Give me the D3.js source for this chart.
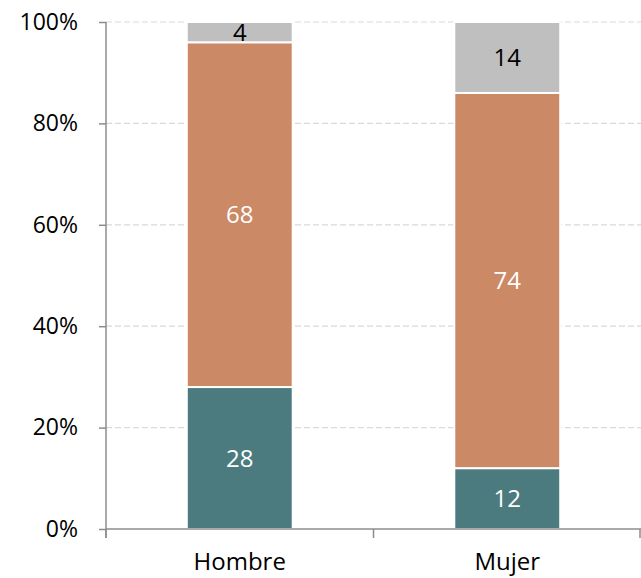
<!DOCTYPE html>
<html>
<head>
<meta charset="utf-8">
<script src="https://cdn.jsdelivr.net/npm/d3@7"></script>
<style>
  body { margin: 0; background: #fff; }
  text { font-family: "Open Sans", "Noto Sans", sans-serif; }
</style>
</head>
<body>
<div id="chart"></div>
<script>
var categories = ["Hombre", "Mujer"];
var seriesKeys = ["bajo", "medio", "alto"];
var bajo = [28, 12];
var medio = [68, 74];
var alto = [4, 14];
var yTicks = [0, 20, 40, 60, 80, 100];

var colors = { bajo: "#4b7b7e", medio: "#cc8966", alto: "#bfbfbf" };
var labelColors = { bajo: "#ffffff", medio: "#ffffff", alto: "#000000" };

var data = categories.map(function(c, i) {
  return { cat: c, bajo: bajo[i], medio: medio[i], alto: alto[i] };
});

var w = 641, h = 578;
var margin = { top: 22, right: 0, bottom: 49, left: 106 };

var svg = d3.select("#chart").append("svg")
  .attr("width", w)
  .attr("height", h);

var xScale = d3.scaleBand()
  .domain(categories)
  .range([margin.left, w - margin.right])
  .paddingInner(0.604)
  .paddingOuter(0.302);

var yScale = d3.scaleLinear()
  .domain([0, 100])
  .range([h - margin.bottom, margin.top]);

// gridlines
svg.append("g")
  .selectAll("line")
  .data(yTicks.filter(function(d) { return d > 0; }))
  .enter()
  .append("line")
  .attr("x1", margin.left)
  .attr("x2", w)
  .attr("y1", function(d) { return yScale(d); })
  .attr("y2", function(d) { return yScale(d); })
  .attr("stroke", "#d9d9d9")
  .attr("stroke-width", 1.2)
  .attr("stroke-dasharray", "6,3");

var stack = d3.stack().keys(seriesKeys);
var layers = stack(data);

var groups = svg.selectAll(".layer")
  .data(layers)
  .enter()
  .append("g")
  .attr("class", "layer")
  .attr("fill", function(d) { return colors[d.key]; });

groups.selectAll("rect")
  .data(function(d) { return d; })
  .enter()
  .append("rect")
  .attr("x", function(d) { return xScale(d.data.cat); })
  .attr("width", xScale.bandwidth())
  .attr("y", function(d) { return yScale(d[1]); })
  .attr("height", function(d) { return yScale(d[0]) - yScale(d[1]); })
  .attr("stroke", "#ffffff")
  .attr("stroke-width", 2);

groups.each(function(layer) {
  d3.select(this).selectAll("text")
    .data(layer)
    .enter()
    .append("text")
    .attr("x", function(d) { return xScale(d.data.cat) + xScale.bandwidth() / 2; })
    .attr("y", function(d) { return (yScale(d[0]) + yScale(d[1])) / 2; })
    .attr("dy", "0.36em")
    .attr("text-anchor", "middle")
    .attr("font-size", "24px")
    .attr("fill", labelColors[layer.key])
    .text(function(d) { return d[1] - d[0]; });
});

// y axis
var yAxis = svg.append("g")
  .attr("transform", "translate(" + margin.left + ",0)")
  .call(d3.axisLeft(yScale).tickValues(yTicks).tickSize(7).tickPadding(21)
    .tickFormat(function(d) { return d + "%"; }));
yAxis.select(".domain").remove();
yAxis.append("line")
  .attr("x1", 0).attr("x2", 0)
  .attr("y1", yScale(100)).attr("y2", yScale(0) + 9)
  .attr("stroke", "#8c8c8c").attr("stroke-width", 1.5);
yAxis.selectAll(".tick line").attr("stroke", "#8c8c8c").attr("stroke-width", 1.5);
yAxis.selectAll(".tick text")
  .attr("font-size", "23px")
  .attr("fill", "#000")
  .attr("text-anchor", "end");

// x axis
var xAxis = svg.append("g")
  .attr("transform", "translate(0," + yScale(0) + ")");
xAxis.append("line")
  .attr("x1", margin.left).attr("x2", w)
  .attr("y1", 0).attr("y2", 0)
  .attr("stroke", "#8c8c8c").attr("stroke-width", 1.5);
var boundaries = [margin.left, margin.left + xScale.step(), w - 1];
xAxis.selectAll(".xtick")
  .data(boundaries)
  .enter()
  .append("line")
  .attr("x1", function(d) { return d; })
  .attr("x2", function(d) { return d; })
  .attr("y1", 0).attr("y2", 9)
  .attr("stroke", "#8c8c8c").attr("stroke-width", 1.5);
xAxis.selectAll(".xlabel")
  .data(categories)
  .enter()
  .append("text")
  .attr("x", function(d) { return xScale(d) + xScale.bandwidth() / 2; })
  .attr("y", 41)
  .attr("text-anchor", "middle")
  .attr("font-size", "24px")
  .attr("fill", "#000")
  .text(function(d) { return d; });
</script>
</body>
</html>
